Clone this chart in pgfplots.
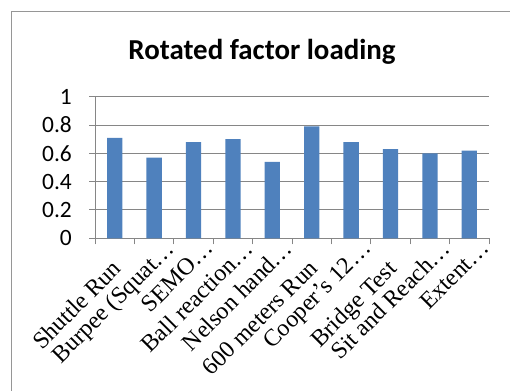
\documentclass[border=0pt]{standalone}
\usepackage{pgfplots}
\pgfplotsset{compat=1.18}
\usepackage{fontspec}
\setmainfont{Carlito}
\newfontfamily\timesf{Liberation Serif}
\definecolor{barblue}{RGB}{79,129,189}
\definecolor{axgray}{RGB}{134,134,134}
\definecolor{bordergray}{RGB}{150,150,150}
\newcommand{\trunc}[1]{\raisebox{4.5bp}[\height][\depth]{#1…}\kern-24bp\relax}
\begin{document}
\begin{tikzpicture}[x=1bp,y=1bp]
\path[use as bounding box] (0,0) rectangle (510,390);
\draw[bordergray, line width=1bp] (11,-10) -- (11,378) -- (530,378);
\node[anchor=base, font=\fontsize{29}{34}\selectfont\bfseries] at (262,330.7) {Rotated factor loading};
\begin{axis}[
  at={(95bp,151.7bp)}, anchor=south west,
  scale only axis, width=394bp, height=141.6bp,
  xmin=-0.5, xmax=9.5, ymin=0, ymax=1,
  axis x line*=bottom, axis y line*=left,
  axis line style={axgray, line width=1bp},
  ymajorgrids, grid style={axgray, line width=1bp},
  xtick={0,...,9},
  xticklabels={Shuttle Run, \trunc{Burpee (Squat}, \trunc{SEMO}, \trunc{Ball reaction}, \trunc{Nelson hand}, 600 meters Run, \trunc{Cooper’s 12}, Bridge Test, \trunc{Sit and Reach}, \trunc{Extent}},
  ytick={0,0.2,...,1},
  minor xtick={-0.5,0.5,...,9.5},
  minor ytick={0,0.2,...,1},
  tick align=outside,
  major tick length=0pt, minor tick length=6bp,
  tick style={axgray, line width=1bp},
  xticklabel style={font=\timesf\fontsize{24}{28}\selectfont, xshift=-4bp, yshift=-20bp, rotate=45, anchor=north east, inner sep=0pt},
  yticklabel style={font=\fontsize{23.5}{28}\selectfont, anchor=east, inner sep=0pt, xshift=-23bp},
  /pgf/number format/assume math mode=true,
  ybar, bar width=15.3bp, bar shift=0pt,
]
\addplot[fill=barblue, draw=none] coordinates {
(0,0.71) (1,0.57) (2,0.68) (3,0.70) (4,0.54) (5,0.79) (6,0.68) (7,0.63) (8,0.60) (9,0.62)
};
\end{axis}
\end{tikzpicture}
\end{document}
